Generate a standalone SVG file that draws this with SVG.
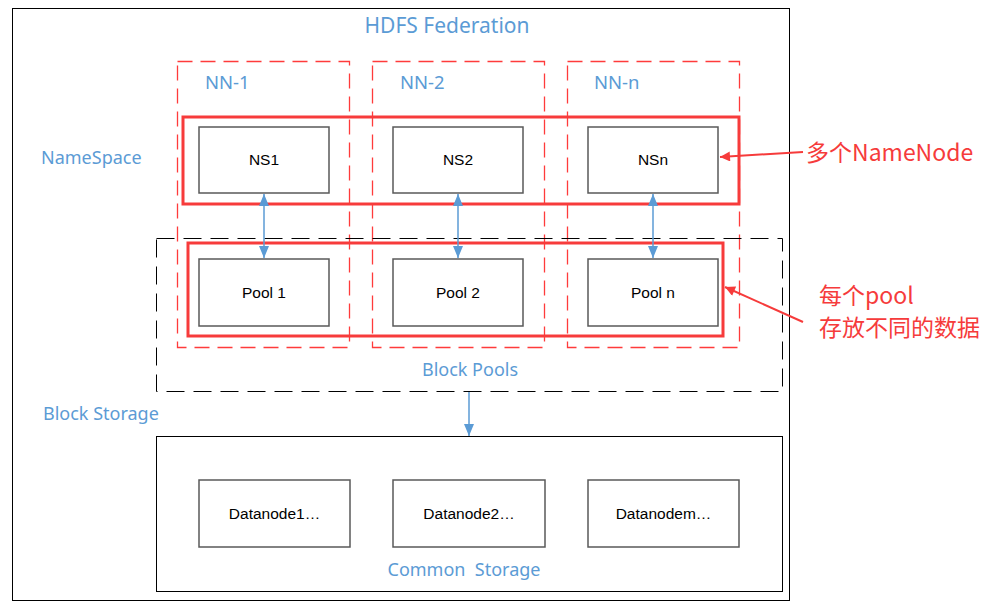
<svg xmlns="http://www.w3.org/2000/svg" width="1000" height="609" viewBox="0 0 1000 609">
<defs>
<style>
.lbl{font-family:"Noto Sans","Noto Sans CJK SC",sans-serif;fill:#5B9BD5;}
.box{fill:#fff;stroke:#595959;stroke-width:1.5;}
.bt{font-family:"Liberation Sans",sans-serif;font-size:15.5px;fill:#000;text-anchor:middle;}
.nn{fill:none;stroke:#FF3B3B;stroke-width:1.3;stroke-dasharray:15,8;}
.red{fill:none;stroke:#F73B3B;stroke-width:3;}
.ann{font-family:"Noto Sans CJK SC","Noto Sans",sans-serif;font-size:23px;fill:#F63B3B;}
.conn{stroke:#5B9BD5;stroke-width:1.5;fill:none;}
.rconn{stroke:#F63B3B;stroke-width:2;fill:none;}
</style>
<marker id="ab" viewBox="0 0 12 10" refX="12" refY="5" markerWidth="12" markerHeight="10" markerUnits="userSpaceOnUse" orient="auto-start-reverse"><path d="M0,0 L12,5 L0,10 z" fill="#5B9BD5"/></marker>
<marker id="ar" viewBox="0 0 10 10" refX="10" refY="5" markerWidth="13" markerHeight="10" markerUnits="userSpaceOnUse" orient="auto"><path d="M0,0 L10,5 L0,10 z" fill="#F63B3B"/></marker>
</defs>
<rect width="1000" height="609" fill="#fff"/>
<g id="frame">
<rect x="12.5" y="8.5" width="777" height="592" fill="none" stroke="#000" stroke-width="1"/>
<text class="lbl" x="447" y="33" font-size="21" text-anchor="middle">HDFS Federation</text>
<text class="lbl" x="41" y="164" font-size="18">NameSpace</text>
<text class="lbl" x="43" y="420" font-size="18">Block Storage</text>
</g>
<g id="nn-columns">
<rect class="nn" x="177.5" y="61.5" width="172" height="286"/>
<rect class="nn" x="372.5" y="61.5" width="172" height="286"/>
<rect class="nn" x="567.5" y="61.5" width="172" height="286"/>
<text class="lbl" x="205" y="89" font-size="18.5">NN-1</text>
<text class="lbl" x="400" y="89" font-size="18.5">NN-2</text>
<text class="lbl" x="594" y="89" font-size="18.5">NN-n</text>
</g>
<g id="block-pools">
<rect x="156.5" y="238.5" width="626" height="153" fill="none" stroke="#000" stroke-width="1" stroke-dasharray="18,9"/>
<text class="lbl" x="470" y="376" font-size="18" text-anchor="middle">Block Pools</text>
</g>
<g id="namenodes">
<rect class="red" x="183" y="117" width="556" height="87"/>
</g>
<g id="pools">
<rect class="red" x="188" y="243" width="535" height="93"/>
</g>
<g id="ns1"><rect class="box" x="199" y="127" width="130" height="66"/><text class="bt" x="264" y="165">NS1</text></g>
<g id="ns2"><rect class="box" x="393" y="127" width="130" height="66"/><text class="bt" x="458" y="165">NS2</text></g>
<g id="nsn"><rect class="box" x="588" y="127" width="130" height="66"/><text class="bt" x="653" y="165">NSn</text></g>
<g id="pool1"><rect class="box" x="199" y="259" width="130" height="67"/><text class="bt" x="264" y="298">Pool 1</text></g>
<g id="pool2"><rect class="box" x="393" y="259" width="130" height="67"/><text class="bt" x="458" y="298">Pool 2</text></g>
<g id="pooln"><rect class="box" x="588" y="259" width="130" height="67"/><text class="bt" x="653" y="298">Pool n</text></g>
<g id="common-storage">
<rect x="156.5" y="436.5" width="626" height="155" fill="none" stroke="#000" stroke-width="1"/>
<text class="lbl" x="464" y="576" font-size="18" text-anchor="middle" xml:space="preserve">Common  Storage</text>
</g>
<g id="dn1"><rect class="box" x="199" y="480" width="151" height="67"/><text class="bt" x="274.5" y="519">Datanode1…</text></g>
<g id="dn2"><rect class="box" x="393" y="480" width="152" height="67"/><text class="bt" x="469" y="519">Datanode2…</text></g>
<g id="dnm"><rect class="box" x="588" y="480" width="151" height="67"/><text class="bt" x="663.5" y="519">Datanodem…</text></g>
<g id="annotations">
<text class="ann" x="806" y="161">多个NameNode</text>
<text class="ann" x="819" y="304">每个pool</text>
<text class="ann" x="819" y="336">存放不同的数据</text>
</g>
<g id="connectors">
<line class="conn" x1="264" y1="194" x2="264" y2="258" marker-start="url(#ab)" marker-end="url(#ab)"/>
<line class="conn" x1="458" y1="194" x2="458" y2="258" marker-start="url(#ab)" marker-end="url(#ab)"/>
<line class="conn" x1="653" y1="194" x2="653" y2="258" marker-start="url(#ab)" marker-end="url(#ab)"/>
<line class="conn" x1="469" y1="392" x2="469" y2="436" marker-end="url(#ab)"/>
<line class="rconn" x1="803" y1="152" x2="720" y2="157" marker-end="url(#ar)"/>
<line class="rconn" x1="803" y1="322" x2="725" y2="287" marker-end="url(#ar)"/>
</g>
</svg>
